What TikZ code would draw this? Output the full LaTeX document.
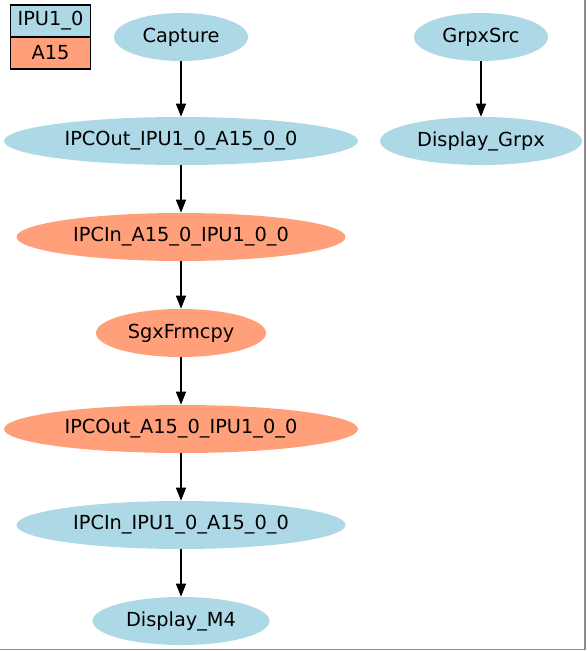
\documentclass[tikz,border=0pt]{standalone}
\usepackage{fontspec}
\setmainfont{DejaVu Sans}
\usetikzlibrary{arrows.meta,shapes.geometric}
\definecolor{nblue}{HTML}{ADD8E6}
\definecolor{nsalmon}{HTML}{FFA07A}
\definecolor{frame}{HTML}{8C8C8C}
\begin{document}
\begin{tikzpicture}[x=0.75pt,y=-0.75pt,
  ell/.style={ellipse,inner sep=0pt,minimum height=36pt,font=\fontsize{14.5}{16}\selectfont},
  bluenode/.style={ell,fill=nblue},
  salmonnode/.style={ell,fill=nsalmon},
  legcell/.style={rectangle,draw=black,line width=0.9pt,inner sep=0pt,minimum width=60pt,minimum height=24pt,font=\fontsize{14.5}{16}\selectfont},
  edge/.style={line width=0.9pt,-{Triangle[length=9.75pt,width=7.5pt]}}]
\useasboundingbox (0,0) rectangle (587,651);
\fill[white] (0,0) rectangle (587,651);
\draw[frame,line width=1.2pt] (585,0) -- (585,649.5) -- (0,649.5);
% legend
\node[legcell,fill=nblue] (legA) at (50.5,21) {IPU1\_0};
\node[legcell,fill=nsalmon] (legB) at (50.5,53) {A15};
% main chain
\node[bluenode,minimum width=100.5pt] (cap) at (181,37) {Capture};
\node[bluenode,minimum width=265.5pt] (out1) at (181,141) {IPCOut\_IPU1\_0\_A15\_0\_0};
\node[salmonnode,minimum width=246.75pt] (in1) at (181,237) {IPCIn\_A15\_0\_IPU1\_0\_0};
\node[salmonnode,minimum width=127.5pt] (sgx) at (181,333) {SgxFrmcpy};
\node[salmonnode,minimum width=265.5pt] (out2) at (181,429) {IPCOut\_A15\_0\_IPU1\_0\_0};
\node[bluenode,minimum width=246.75pt] (in2) at (181,525) {IPCIn\_IPU1\_0\_A15\_0\_0};
\node[bluenode,minimum width=132.75pt] (disp) at (181,621) {Display\_M4};
% right chain
\node[bluenode,minimum width=100.5pt] (grpx) at (481,37) {GrpxSrc};
\node[bluenode,minimum width=151.5pt] (dgrpx) at (481,141) {Display\_Grpx};
% edges
\draw[edge] (cap) -- (out1);
\draw[edge] (out1) -- (in1);
\draw[edge] (in1) -- (sgx);
\draw[edge] (sgx) -- (out2);
\draw[edge] (out2) -- (in2);
\draw[edge] (in2) -- (disp);
\draw[edge] (grpx) -- (dgrpx);
\end{tikzpicture}
\end{document}
